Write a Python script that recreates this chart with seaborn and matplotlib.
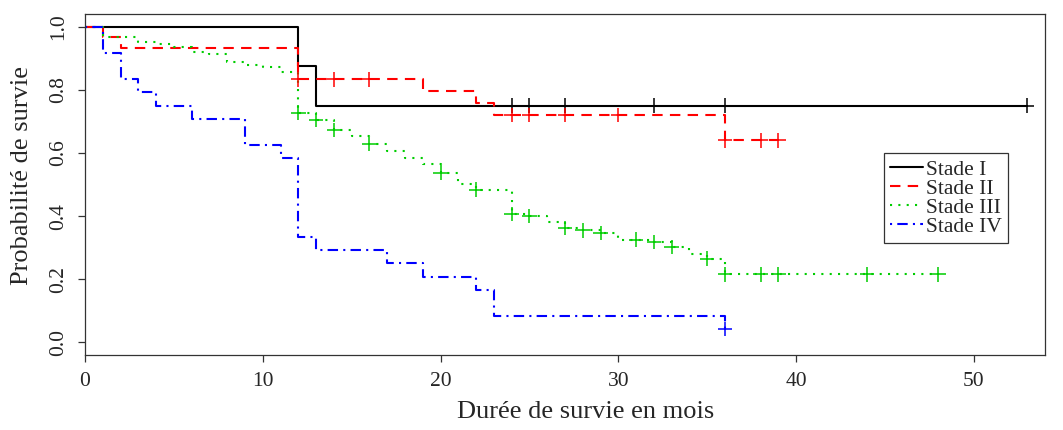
import numpy as np
import pandas as pd
import seaborn as sns
import matplotlib
matplotlib.use("Agg")
import matplotlib.pyplot as plt

# Kaplan-Meier steps (time in months, survival)
stages = ["Stade I", "Stade II", "Stade III", "Stade IV"]

t_I = [0, 12, 13, 53]
s_I = [1.0, 0.875, 0.75, 0.75]
cens_I = [24, 25, 27, 32, 36, 53]

t_II = [0, 1, 2, 12, 19, 22, 23, 36, 39]
s_II = [1.0, 0.967, 0.933, 0.833, 0.795, 0.758, 0.72, 0.64, 0.64]
cens_II = [12, 14, 16, 24, 25, 27, 30, 36, 38, 39]

t_III = [0, 1, 3, 4, 5, 6, 7, 8, 9, 10, 11, 12, 13, 14, 15, 16, 17, 18, 19,
         20, 21, 22, 24, 25, 26, 27, 28, 29, 30, 32, 33, 34, 35, 36, 48]
s_III = [1.0, 0.968, 0.952, 0.944, 0.936, 0.92, 0.912, 0.888, 0.88, 0.872,
         0.856, 0.728, 0.705, 0.672, 0.655, 0.628, 0.607, 0.583, 0.565, 0.538,
         0.502, 0.484, 0.407, 0.400, 0.381, 0.362, 0.355, 0.346, 0.325, 0.318,
         0.302, 0.281, 0.265, 0.215, 0.215]
cens_III = [12, 13, 14, 16, 20, 22, 24, 25, 27, 28, 29, 31, 32, 33, 35, 36,
            38, 39, 44, 48]

t_IV = [0, 1, 2, 3, 4, 6, 9, 11, 12, 13, 17, 19, 22, 23, 36]
s_IV = [1.0, 0.917, 0.833, 0.792, 0.75, 0.708, 0.625, 0.583, 0.333, 0.292,
        0.25, 0.208, 0.167, 0.083, 0.042]
cens_IV = [36]

colors = ["black", "#FF0000", "#00CD00", "#0000FF"]

curves = [(t_I, s_I, cens_I), (t_II, s_II, cens_II),
          (t_III, s_III, cens_III), (t_IV, s_IV, cens_IV)]

rows, crows = [], []
for name, (t, s, c) in zip(stages, curves):
    for ti, si in zip(t, s):
        rows.append((name, ti, si))
    t_arr = np.array(t)
    for ci in c:
        # survival level of the step in force at the censoring time
        idx = np.searchsorted(t_arr, ci, side="right") - 1
        crows.append((name, ci, s[idx]))
df = pd.DataFrame(rows, columns=["stade", "mois", "survie"])
cens = pd.DataFrame(crows, columns=["stade", "mois", "survie"])

sns.set_style("ticks")
plt.rcParams["font.family"] = ["Liberation Serif", "DejaVu Serif"]

fig = plt.figure(figsize=(10.63, 4.30), dpi=100)
ax = fig.add_axes([0.080, 0.1744, 0.903, 0.7930])

palette = dict(zip(stages, colors))
dashes = {"Stade I": "", "Stade II": (5, 3.5), "Stade III": (1, 3),
          "Stade IV": (1, 2.5, 5, 2.5)}

sns.lineplot(data=df, x="mois", y="survie", hue="stade", style="stade",
             palette=palette, dashes=dashes, estimator=None, sort=False,
             drawstyle="steps-post", linewidth=1.5, ax=ax)
sns.scatterplot(data=cens, x="mois", y="survie", hue="stade", palette=palette,
                marker="+", s=110, linewidth=1.1, legend=False, ax=ax, zorder=3)

ax.set_xlim(0, 54)
ax.set_ylim(-0.04, 1.04)
ax.set_xticks([0, 10, 20, 30, 40, 50])
ax.set_yticks([0.0, 0.2, 0.4, 0.6, 0.8, 1.0])
ax.set_yticklabels(["0.0", "0.2", "0.4", "0.6", "0.8", "1.0"],
                   rotation=90, va="center")
ax.tick_params(axis="both", direction="out", length=5, width=0.9,
               color="#333333", labelsize=15.5, pad=7)
for sp in ax.spines.values():
    sp.set_visible(True)
    sp.set_color("#333333")
    sp.set_linewidth(0.9)

ax.set_xlabel("Durée de survie en mois", fontsize=19)
ax.set_ylabel("Probabilité de survie", fontsize=19)
ax.xaxis.set_label_coords(0.522, -0.135)
ax.yaxis.set_label_coords(-0.054, 0.525)

handles, labels = ax.get_legend_handles_labels()
ax.legend(handles=handles, labels=labels, loc="upper left",
          bbox_to_anchor=(0.8316, 0.6442), bbox_transform=fig.transFigure,
          frameon=True, fancybox=False, edgecolor="#333333", framealpha=1,
          fontsize=15.5, handlelength=1.5, handletextpad=0.15,
          labelspacing=-0.05, borderpad=0.3, borderaxespad=0)
ax.get_legend().get_frame().set_linewidth(0.9)

fig.savefig("out.png", dpi=100)
